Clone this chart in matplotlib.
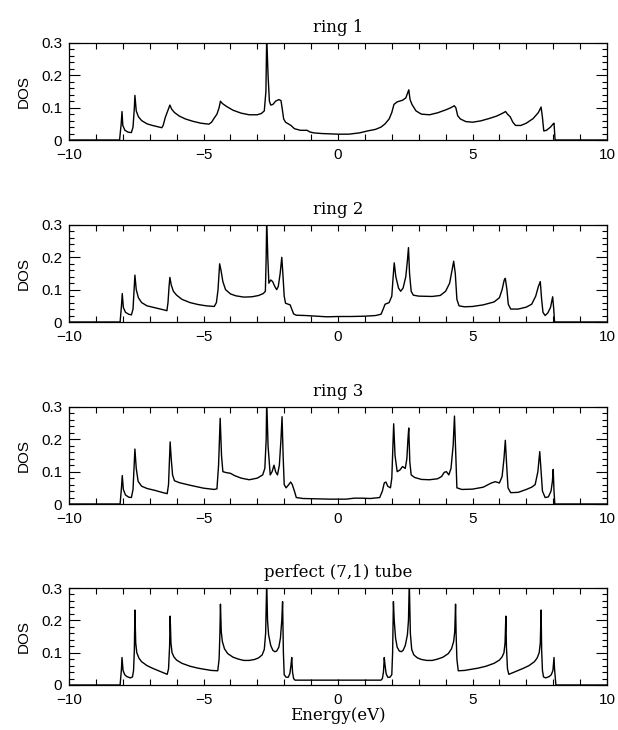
import matplotlib
matplotlib.use("Agg")
import matplotlib.pyplot as plt
from matplotlib.ticker import MultipleLocator

# Density of states, (energy eV, DOS) points per panel
ring1 = [(-10.0, 0), (-8.12, 0), (-8.06, 0.05), (-8.03, 0.088), (-8.0, 0.045), (-7.92, 0.03),
         (-7.8, 0.024), (-7.68, 0.023), (-7.62, 0.04), (-7.57, 0.1), (-7.55, 0.138), (-7.5, 0.09),
         (-7.42, 0.072), (-7.3, 0.06), (-7.1, 0.05), (-6.9, 0.045), (-6.7, 0.041), (-6.55, 0.038),
         (-6.5, 0.045), (-6.42, 0.07), (-6.33, 0.09), (-6.25, 0.108), (-6.18, 0.095), (-6.08, 0.085),
         (-5.9, 0.074), (-5.67, 0.065), (-5.4, 0.058), (-5.1, 0.052), (-4.8, 0.049), (-4.7, 0.055),
         (-4.6, 0.068), (-4.5, 0.08), (-4.42, 0.1), (-4.37, 0.12), (-4.3, 0.113), (-4.13, 0.103),
         (-3.9, 0.092), (-3.6, 0.083), (-3.3, 0.078), (-3.0, 0.078), (-2.85, 0.082), (-2.74, 0.09),
         (-2.68, 0.15), (-2.65, 0.32), (-2.6, 0.2), (-2.55, 0.12), (-2.5, 0.108), (-2.42, 0.11),
         (-2.32, 0.12), (-2.2, 0.125), (-2.12, 0.122), (-2.07, 0.095), (-2.02, 0.065), (-1.95, 0.055),
         (-1.85, 0.05), (-1.75, 0.045), (-1.62, 0.035), (-1.4, 0.03), (-1.15, 0.03), (-1.05, 0.025),
         (-0.9, 0.022), (-0.6, 0.02), (-0.3, 0.019), (0.0, 0.018), (0.4, 0.018), (0.8, 0.022),
         (1.1, 0.028), (1.4, 0.033), (1.6, 0.04), (1.75, 0.05), (1.9, 0.065), (2.0, 0.085),
         (2.08, 0.11), (2.2, 0.118), (2.4, 0.123), (2.52, 0.13), (2.6, 0.148), (2.63, 0.155),
         (2.68, 0.125), (2.75, 0.11), (2.9, 0.09), (3.1, 0.08), (3.4, 0.078), (3.7, 0.084),
         (4.0, 0.093), (4.2, 0.1), (4.32, 0.106), (4.38, 0.1), (4.45, 0.075), (4.55, 0.065),
         (4.75, 0.057), (5.0, 0.055), (5.3, 0.059), (5.6, 0.066), (5.9, 0.074), (6.1, 0.082),
         (6.23, 0.088), (6.3, 0.08), (6.4, 0.072), (6.5, 0.055), (6.6, 0.045), (6.8, 0.045),
         (7.0, 0.052), (7.25, 0.066), (7.45, 0.085), (7.55, 0.102), (7.6, 0.07), (7.65, 0.028),
         (7.75, 0.03), (7.9, 0.04), (8.0, 0.05), (8.03, 0.052), (8.07, 0), (10.0, 0)]

ring2 = [(-10.0, 0), (-8.1, 0), (-8.05, 0.05), (-8.02, 0.088), (-7.98, 0.045), (-7.9, 0.03),
         (-7.78, 0.024), (-7.68, 0.022), (-7.62, 0.04), (-7.58, 0.1), (-7.55, 0.145), (-7.5, 0.1),
         (-7.42, 0.075), (-7.3, 0.06), (-7.1, 0.05), (-6.8, 0.044), (-6.5, 0.038), (-6.36, 0.035),
         (-6.32, 0.06), (-6.28, 0.11), (-6.25, 0.138), (-6.2, 0.115), (-6.12, 0.095), (-6.0, 0.083),
         (-5.8, 0.07), (-5.5, 0.06), (-5.2, 0.054), (-4.9, 0.05), (-4.6, 0.048), (-4.52, 0.06),
         (-4.46, 0.1), (-4.4, 0.18), (-4.35, 0.16), (-4.28, 0.125), (-4.18, 0.1), (-4.0, 0.087),
         (-3.8, 0.081), (-3.5, 0.077), (-3.2, 0.078), (-2.95, 0.082), (-2.78, 0.088), (-2.7, 0.095),
         (-2.67, 0.2), (-2.65, 0.32), (-2.61, 0.2), (-2.57, 0.12), (-2.5, 0.13), (-2.43, 0.125),
         (-2.35, 0.11), (-2.28, 0.1), (-2.22, 0.11), (-2.15, 0.15), (-2.09, 0.2), (-2.05, 0.15),
         (-2.0, 0.08), (-1.95, 0.058), (-1.85, 0.055), (-1.78, 0.053), (-1.72, 0.04), (-1.65, 0.025),
         (-1.55, 0.021), (-1.2, 0.02), (-0.8, 0.018), (-0.4, 0.016), (0.0, 0.017), (0.5, 0.017),
         (1.0, 0.018), (1.4, 0.02), (1.6, 0.024), (1.68, 0.04), (1.75, 0.055), (1.9, 0.06),
         (2.0, 0.08), (2.05, 0.14), (2.09, 0.183), (2.15, 0.14), (2.25, 0.105), (2.33, 0.095),
         (2.42, 0.105), (2.52, 0.14), (2.58, 0.19), (2.62, 0.23), (2.66, 0.15), (2.72, 0.095),
         (2.8, 0.083), (3.0, 0.08), (3.5, 0.079), (3.8, 0.082), (4.0, 0.095), (4.15, 0.12),
         (4.25, 0.165), (4.3, 0.188), (4.36, 0.15), (4.42, 0.07), (4.5, 0.05), (4.7, 0.047),
         (5.0, 0.048), (5.4, 0.053), (5.8, 0.062), (6.0, 0.075), (6.1, 0.1), (6.18, 0.13),
         (6.22, 0.135), (6.28, 0.1), (6.33, 0.055), (6.42, 0.04), (6.7, 0.04), (7.0, 0.046),
         (7.2, 0.055), (7.35, 0.08), (7.45, 0.11), (7.52, 0.125), (7.57, 0.07), (7.62, 0.03),
         (7.7, 0.02), (7.8, 0.028), (7.9, 0.045), (7.98, 0.078), (8.02, 0.04), (8.05, 0), (10.0, 0)]

ring3 = [(-10.0, 0), (-8.1, 0), (-8.05, 0.05), (-8.02, 0.088), (-7.98, 0.045), (-7.9, 0.028),
         (-7.78, 0.021), (-7.68, 0.02), (-7.62, 0.045), (-7.58, 0.12), (-7.55, 0.17), (-7.5, 0.11),
         (-7.43, 0.07), (-7.3, 0.055), (-7.1, 0.048), (-6.8, 0.042), (-6.5, 0.035), (-6.35, 0.032),
         (-6.3, 0.06), (-6.26, 0.15), (-6.24, 0.192), (-6.2, 0.14), (-6.15, 0.09), (-6.08, 0.072),
         (-5.9, 0.066), (-5.5, 0.058), (-5.0, 0.049), (-4.6, 0.045), (-4.5, 0.047), (-4.44, 0.12),
         (-4.38, 0.265), (-4.33, 0.15), (-4.28, 0.1), (-4.15, 0.097), (-4.0, 0.095), (-3.85, 0.088),
         (-3.6, 0.08), (-3.3, 0.075), (-3.0, 0.08), (-2.8, 0.09), (-2.72, 0.11), (-2.67, 0.2),
         (-2.65, 0.32), (-2.6, 0.18), (-2.52, 0.09), (-2.45, 0.1), (-2.38, 0.12), (-2.32, 0.1),
         (-2.25, 0.09), (-2.18, 0.12), (-2.12, 0.2), (-2.08, 0.27), (-2.04, 0.15), (-2.0, 0.06),
         (-1.93, 0.05), (-1.85, 0.058), (-1.76, 0.068), (-1.7, 0.06), (-1.62, 0.04), (-1.55, 0.02),
         (-1.3, 0.017), (-0.8, 0.016), (-0.3, 0.015), (0.0, 0.015), (0.3, 0.015), (0.6, 0.018),
         (0.9, 0.018), (1.2, 0.017), (1.55, 0.02), (1.65, 0.04), (1.72, 0.065), (1.78, 0.068),
         (1.85, 0.055), (1.95, 0.05), (2.0, 0.08), (2.04, 0.18), (2.07, 0.248), (2.12, 0.15),
         (2.2, 0.1), (2.3, 0.105), (2.4, 0.116), (2.5, 0.11), (2.56, 0.14), (2.6, 0.2),
         (2.63, 0.235), (2.67, 0.13), (2.72, 0.09), (2.85, 0.082), (3.1, 0.076), (3.4, 0.075),
         (3.7, 0.078), (3.85, 0.085), (3.95, 0.098), (4.03, 0.1), (4.12, 0.09), (4.2, 0.11),
         (4.28, 0.18), (4.33, 0.272), (4.38, 0.15), (4.42, 0.05), (4.6, 0.045), (5.0, 0.046),
         (5.4, 0.052), (5.7, 0.065), (5.85, 0.069), (6.0, 0.065), (6.1, 0.085), (6.17, 0.14),
         (6.22, 0.197), (6.27, 0.12), (6.32, 0.05), (6.42, 0.035), (6.7, 0.036), (7.0, 0.045),
         (7.2, 0.052), (7.33, 0.06), (7.43, 0.1), (7.5, 0.162), (7.55, 0.1), (7.6, 0.04),
         (7.7, 0.02), (7.82, 0.022), (7.92, 0.04), (7.97, 0.07), (8.0, 0.107), (8.03, 0.04),
         (8.06, 0), (10.0, 0)]

tube = [(-10.0, 0), (-8.1, 0), (-8.05, 0.05), (-8.03, 0.085), (-7.99, 0.045), (-7.93, 0.032),
        (-7.85, 0.026), (-7.72, 0.022), (-7.64, 0.025), (-7.6, 0.045), (-7.57, 0.11), (-7.55, 0.232),
        (-7.52, 0.13), (-7.48, 0.1), (-7.4, 0.083), (-7.3, 0.072), (-7.1, 0.06), (-6.9, 0.052),
        (-6.7, 0.045), (-6.5, 0.038), (-6.35, 0.033), (-6.3, 0.05), (-6.26, 0.12), (-6.24, 0.213),
        (-6.21, 0.13), (-6.17, 0.1), (-6.1, 0.087), (-6.0, 0.077), (-5.8, 0.067), (-5.5, 0.058),
        (-5.2, 0.052), (-5.0, 0.049), (-4.7, 0.045), (-4.47, 0.044), (-4.42, 0.08), (-4.39, 0.16),
        (-4.37, 0.25), (-4.34, 0.165), (-4.3, 0.135), (-4.22, 0.112), (-4.1, 0.097), (-3.9, 0.086),
        (-3.7, 0.08), (-3.5, 0.076), (-3.3, 0.076), (-3.1, 0.079), (-2.95, 0.084), (-2.82, 0.093),
        (-2.74, 0.11), (-2.69, 0.16), (-2.65, 0.32), (-2.62, 0.2), (-2.58, 0.155), (-2.5, 0.122),
        (-2.42, 0.107), (-2.35, 0.103), (-2.28, 0.105), (-2.2, 0.117), (-2.14, 0.145), (-2.09, 0.2),
        (-2.06, 0.258), (-2.03, 0.1), (-2.0, 0.032), (-1.93, 0.024), (-1.85, 0.024), (-1.79, 0.035),
        (-1.75, 0.06), (-1.72, 0.085), (-1.69, 0.04), (-1.65, 0.02), (-1.6, 0.015),
        (1.6, 0.015), (1.65, 0.02), (1.69, 0.04), (1.72, 0.085), (1.75, 0.06), (1.79, 0.035),
        (1.85, 0.024), (1.93, 0.024), (2.0, 0.032), (2.03, 0.1), (2.06, 0.258), (2.09, 0.2),
        (2.14, 0.145), (2.2, 0.117), (2.28, 0.105), (2.35, 0.103), (2.42, 0.107), (2.5, 0.122),
        (2.58, 0.155), (2.62, 0.2), (2.65, 0.32), (2.69, 0.16), (2.74, 0.11), (2.82, 0.093),
        (2.95, 0.084), (3.1, 0.079), (3.3, 0.076), (3.5, 0.076), (3.7, 0.08), (3.9, 0.086),
        (4.1, 0.097), (4.22, 0.112), (4.3, 0.135), (4.34, 0.165), (4.37, 0.25), (4.39, 0.16),
        (4.42, 0.08), (4.47, 0.044), (4.7, 0.045), (5.0, 0.049), (5.2, 0.052), (5.5, 0.058),
        (5.8, 0.067), (6.0, 0.077), (6.1, 0.087), (6.17, 0.1), (6.21, 0.13), (6.24, 0.213),
        (6.26, 0.12), (6.3, 0.05), (6.35, 0.033), (6.5, 0.038), (6.7, 0.045), (6.9, 0.052),
        (7.1, 0.06), (7.3, 0.072), (7.4, 0.083), (7.48, 0.1), (7.52, 0.13), (7.55, 0.232),
        (7.57, 0.11), (7.6, 0.045), (7.64, 0.025), (7.72, 0.022), (7.85, 0.026), (7.93, 0.032),
        (7.99, 0.045), (8.03, 0.085), (8.05, 0.05), (8.1, 0), (10.0, 0)]

titles = ["ring 1", "ring 2", "ring 3", "perfect (7,1) tube"]
panels = [ring1, ring2, ring3, tube]

fig = plt.figure(figsize=(6.18, 7.30), dpi=100)
left, width, height = 69 / 618, 538 / 618, 97 / 730
bottoms = [590 / 730, 408 / 730, 226 / 730, 45 / 730]

sans = "Liberation Sans"
serif = "DejaVu Serif"

for pts, title, b in zip(panels, titles, bottoms):
    ax = fig.add_axes([left, b, width, height])
    e, d = zip(*pts)
    ax.plot(e, d, color="black", lw=1.0)
    ax.set_xlim(-10, 10)
    ax.set_ylim(0, 0.3)
    ax.xaxis.set_major_locator(MultipleLocator(5))
    ax.xaxis.set_minor_locator(MultipleLocator(1))
    ax.yaxis.set_major_locator(MultipleLocator(0.1))
    ax.yaxis.set_minor_locator(MultipleLocator(0.02))
    ax.tick_params(which="both", direction="in", top=True, right=True, width=0.8,
                   labelsize=11, colors="black")
    ax.tick_params(axis="x", which="both", length=4.5, pad=6)
    ax.tick_params(axis="y", which="major", length=8, pad=5)
    ax.tick_params(axis="y", which="minor", length=3.8)
    ax.set_yticks([0, 0.1, 0.2, 0.3])
    ax.set_yticklabels(["0", "0.1", "0.2", "0.3"], family=sans)
    ax.set_xticks([-10, -5, 0, 5, 10])
    ax.set_xticklabels(["\u221210", "\u22125", "0", "5", "10"], family=sans)
    ax.set_ylabel("DOS", family=sans, fontsize=11, labelpad=7)
    ax.set_title(title, family=serif, fontsize=12, pad=8)
    for s in ax.spines.values():
        s.set_linewidth(0.9)

ax.set_xlabel("Energy(eV)", family=serif, fontsize=12, labelpad=0)

fig.savefig("out.png", dpi=100)
